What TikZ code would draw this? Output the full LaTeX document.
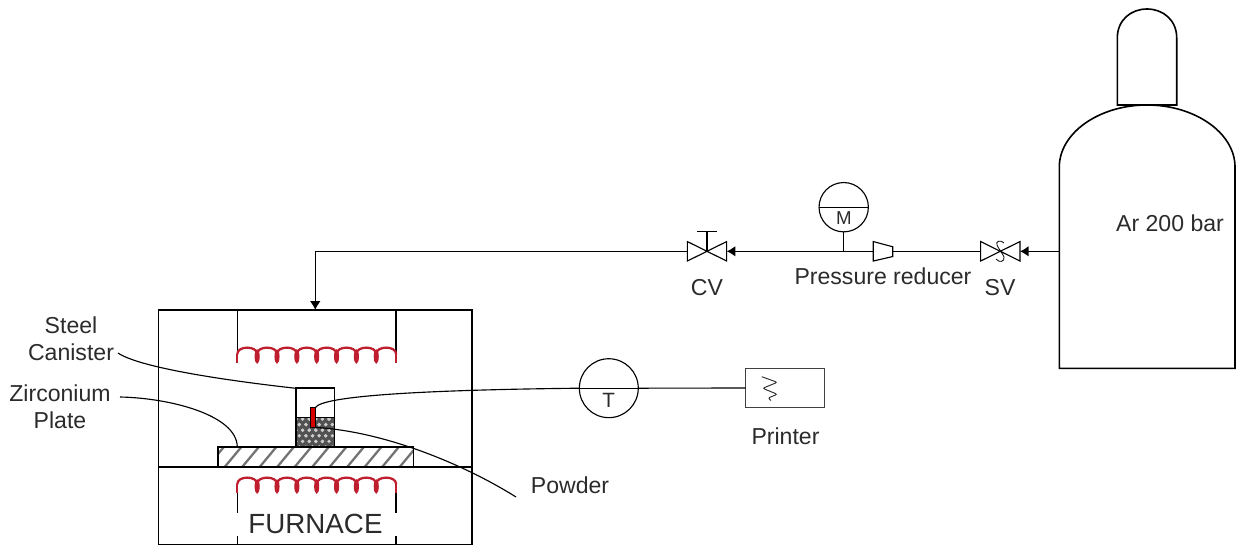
\documentclass[tikz,border=0pt]{standalone}
\usepackage{fontspec}
\setmainfont{Liberation Sans}
\usetikzlibrary{arrows.meta,calc}
\definecolor{ink}{HTML}{2B2B2B}
\definecolor{coil}{HTML}{BE1E2D}
\tikzset{
  x=0.75pt,y=-0.75pt,
  line/.style={draw=black,line width=1.2pt},
  thinline/.style={draw=black,line width=0.85pt},
  arrowline/.style={draw=black,line width=1.05pt,-{Latex[length=6.5pt,width=8pt]}},
  lbl/.style={text=ink,inner sep=0pt,align=center,font=\fontsize{17.3}{20.5}\selectfont},
  small/.style={text=ink,inner sep=0pt,font=\fontsize{14}{16}\selectfont},
  valvebox/.style={minimum width=29.5pt,minimum height=14.6pt,inner sep=0pt,outer sep=0pt},
  gauge/.style={circle,thinline,inner sep=0pt,outer sep=0pt},
  coilline/.style={draw=coil,line width=1.7pt},
}
\newcommand{\heater}[2]{% left x, top y
  \foreach \i in {0,...,7}{
    \pgfmathsetmacro{\xa}{#1+\i*19.85}
    \pgfmathsetmacro{\xb}{#1+(\i+1)*19.85}
    \draw[coilline,line cap=round] (\xa,#2+6) .. controls (\xa,#2-2.5) and (\xb,#2-2.5) .. (\xb,#2+6);
  }
  \foreach \i in {1,...,7}{
    \pgfmathsetmacro{\xa}{#1+\i*19.85}
    \draw[coilline,fill=coil,line width=0.8pt] (\xa,#2+8.5) ellipse [x radius=2,y radius=6.5];
  }
  \draw[coilline] (#1,#2+6) -- (#1,#2+15);
  \draw[coilline] (#1+158.8,#2+6) -- (#1+158.8,#2+15);
}
\begin{document}
\begin{tikzpicture}
\useasboundingbox (0,0) rectangle (1237,545);
% --- cylinder
\draw[line] (1117.3,105) -- (1117.3,38) .. controls (1117.3,20) and (1131,9) .. (1147,9)
  .. controls (1163,9) and (1176.7,20) .. (1176.7,38) -- (1176.7,105) -- cycle;
\draw[line] (1059.3,368.3) -- (1059.3,167) .. controls (1059.3,133) and (1099,105) .. (1147,105)
  .. controls (1195,105) and (1235,133) .. (1235,167) -- (1235,368.3) -- cycle;
\node[lbl] (ar) at (1170,223) {Ar 200 bar};
\coordinate (port) at (1059.3,251.3);
% --- valves, reducer, gauge
\node[valvebox] (cv) at (707,251.3) {};
\node[valvebox] (sv) at (1000.3,251.3) {};
\node[valvebox,minimum width=14.6pt] (red) at (883,251.3) {};
\node[gauge,minimum size=37pt] (m) at (843.7,207.2) {};
\coordinate (handle) at (707,231.7);
\draw[thinline] (cv.north west) -- (cv.south east) -- (cv.north east) -- (cv.south west) -- cycle;
\draw[thinline] (cv.center) -- (handle);
\draw[thinline] ($(handle)+(-10,0)$) -- ($(handle)+(10,0)$);
\draw[thinline] (sv.north west) -- (sv.south east) -- (sv.north east) -- (sv.south west) -- cycle;
\draw[draw=black,line width=0.6pt] (1004,243) .. controls (1001,239.5) and (995,241) .. (997,245)
  .. controls (998,248) and (1003,254) .. (1004,257) .. controls (1005,262) and (999,263) .. (996,259);
\draw[thinline] (red.north west) -- (red.south west) -- ($(red.south east)+(0,-4.5)$) -- ($(red.north east)+(0,5.2)$) -- cycle;
\draw[thinline] (m.west) -- (m.east);
\node[small] (mt) at (844,218.5) {M};
\draw[arrowline] (port) -- (sv.east);
\draw[thinline] (sv.west) -- (red.east);
\draw[arrowline] (red.west) -- (cv.east);
\draw[thinline] (m.south) -- (m.south |- red.west);
\node[lbl] (cvl) at (707,288) {CV};
\node[lbl] (svl) at (1000,288) {SV};
\node[lbl] (redl) at (883,276) {Pressure reducer};
% --- furnace
\node[draw=black,line width=1.2pt,minimum width=235.4pt,minimum height=176pt,inner sep=0pt,outer sep=0pt] (furn) at (315.25,427.2) {};
\draw[arrowline] (cv.west) -| (furn.north);
\coordinate (ul) at (237.3,310); \coordinate (ur) at (396,310);
\draw[line] (ul) -- (237.3,363);
\draw[line] (ur) -- (396,363);
\draw[line] (furn.west |- 0,467) -- (furn.east |- 0,467);
\draw[line] (237.3,493) -- (237.3,513);
\draw[line] (396,493) -- (396,513);
\draw[line] (237.3,536) -- (237.3,544.5);
\draw[line] (396,536) -- (396,544.5);
\heater{237.3}{348}
\heater{237.3}{478}
\node[text=ink,inner sep=0pt,font=\fontsize{20.8}{24}\selectfont] (ftxt) at (315.5,524) {FURNACE};
% plate
\node[minimum width=146.7pt,minimum height=15pt,inner sep=0pt,outer sep=0pt] (plate) at (315.5,457) {};
\begin{scope}
\clip (plate.north west) rectangle (plate.south east);
\foreach \k in {0,...,12}{
  \draw[draw=black!55,line width=1.7pt] (203+\k*17.5,472) -- (228+\k*17.5,442);
}
\end{scope}
\draw[line] (plate.north west) rectangle (plate.south east);
% canister
\node[minimum width=29.2pt,minimum height=44pt,inner sep=0pt,outer sep=0pt] (can) at (315.2,417.6) {};
\begin{scope}
\clip (can.west |- 0,417.3) rectangle (can.south east);
\fill[black!68] (can.west |- 0,417.3) rectangle (can.south east);
\foreach \r in {0,...,5}{
  \foreach \c in {0,...,6}{
    \fill[white!80!black] (296+\c*6.6+\r*3.3,419+\r*5.6) circle [radius=1.8];
    \fill[white!80!black] (296+\c*6.6-\r*3.3,419+\r*5.6) circle [radius=1.8];
  }
}
\end{scope}
\draw[line] (can.north west) rectangle (can.south east);
\draw[line] (can.west |- 0,417.3) -- (can.east |- 0,417.3);
\node[draw=black,fill=red!85!black,line width=0.9pt,minimum width=3.8pt,minimum height=14.8pt,inner sep=0pt,outer sep=0pt] (tc) at (312.8,417.5) {};
% temperature chain
\node[gauge,minimum size=44.2pt] (t) at (608.8,388.2) {};
\node[text=ink,inner sep=0pt,font=\fontsize{15.5}{18}\selectfont] (tt) at (608.8,400) {T};
\node[draw=black!75,line width=1.1pt,minimum width=59pt,minimum height=29.5pt,inner sep=0pt,outer sep=0pt] (pr) at (785,388) {};
\draw[thinline] (tc.north east) .. controls (322,396) and (420,390) .. (t.west);
\draw[thinline] (t.west) -- (t.east);
\draw[thinline] (t.east) -- (pr.west);
\draw[draw=ink,line width=0.7pt,rounded corners=1.5pt] (761.7,376.7) -- (777.3,382.3) -- (762.7,388.3) -- (777.3,394.3) -- (768,398) -- (771,400.5);
\node[lbl] (prl) at (785.5,436) {Printer};
% leaders
\node[lbl] (steel) at (71,338.5) {Steel\\Canister};
\node[lbl] (zr) at (60,407) {Zirconium\\Plate};
\node[lbl] (pw) at (570,485) {Powder};
\coordinate (s1) at (118,353);
\coordinate (z1) at (120,397);
\coordinate (p1) at (516,497);
\draw[thinline] (s1) .. controls (140,368) and (230,381) .. (can.north west);
\draw[thinline] (z1) .. controls (170,398) and (237,415) .. (237.3,447);
\draw[thinline] (tc.south east) .. controls (390,432) and (470,468) .. (p1);
\end{tikzpicture}
\end{document}
